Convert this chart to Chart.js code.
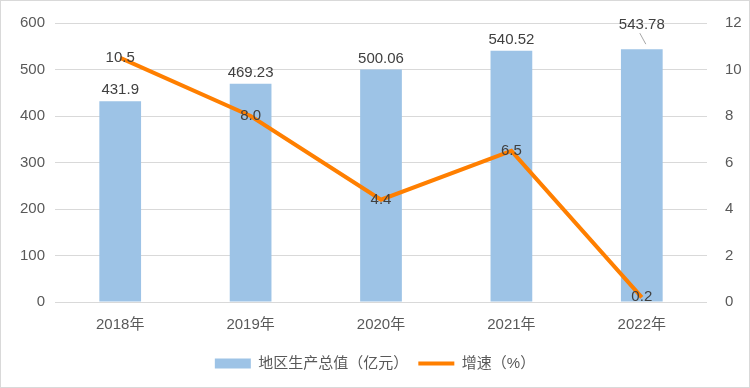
<!DOCTYPE html>
<html>
<head>
<meta charset="utf-8">
<script src="https://cdn.jsdelivr.net/npm/chart.js@4"></script>
<style>
  html, body { margin: 0; padding: 0; background: #fff; }
  .box { width: 748px; height: 386px; border: 1px solid #d9d9d9; position: relative; }
</style>
</head>
<body>
<div class="box"><canvas id="c" width="748" height="386"></canvas></div>
<script>
const years = ['2018年', '2019年', '2020年', '2021年', '2022年'];
const gdp = [431.9, 469.23, 500.06, 540.52, 543.78];
const growth = [10.5, 8.0, 4.4, 6.5, 0.2];
const gdpLabels = ['431.9', '469.23', '500.06', '540.52', '543.78'];
const growthLabels = ['10.5', '8.0', '4.4', '6.5', '0.2'];

const FONT = "'Liberation Sans', 'Noto Sans CJK SC', sans-serif";
const TEXT = '#595959';

// value labels: bars above the top, line centred on the point
const valueLabels = {
  id: 'valueLabels',
  afterDatasetsDraw(chart) {
    const ctx = chart.ctx;
    ctx.save();
    ctx.font = '15px ' + FONT;
    ctx.fillStyle = '#404040';
    ctx.textAlign = 'center';
    ctx.textBaseline = 'middle';
    chart.getDatasetMeta(0).data.forEach((bar, i) => {
      let y = bar.y - 11;
      if (i === 4) {
        // lifted label with a leader line
        y = bar.y - 24;
        ctx.strokeStyle = '#a6a6a6';
        ctx.lineWidth = 1;
        ctx.beginPath();
        ctx.moveTo(bar.x - 2, y + 8);
        ctx.lineTo(bar.x + 4, bar.y - 5);
        ctx.stroke();
      }
      ctx.fillText(gdpLabels[i], bar.x, y);
    });
    chart.getDatasetMeta(1).data.forEach((pt, i) => {
      ctx.fillText(growthLabels[i], pt.x, pt.y);
    });
    ctx.restore();
  }
};

new Chart(document.getElementById('c'), {
  data: {
    labels: years,
    datasets: [{
      type: 'bar',
      label: '地区生产总值（亿元）',
      data: gdp,
      backgroundColor: '#9DC3E6',
      borderWidth: 0,
      yAxisID: 'y',
      categoryPercentage: 1,
      barPercentage: 0.32,
      pointStyle: 'rect',
      order: 2
    }, {
      type: 'line',
      label: '增速（%）',
      data: growth,
      borderColor: '#FF7F00',
      backgroundColor: '#FF7F00',
      borderWidth: 4,
      pointRadius: 0,
      pointStyle: 'line',
      tension: 0,
      yAxisID: 'y1',
      order: 1
    }]
  },
  options: {
    responsive: false,
    animation: false,
    layout: { padding: { top: 22, bottom: 6, left: 0, right: 0 } },
    plugins: {
      legend: {
        position: 'bottom',
        labels: {
          usePointStyle: true,
          pointStyleWidth: 36,
          boxHeight: 10,
          padding: 10,
          color: TEXT,
          font: { size: 15, family: FONT },
          sort: (a, b) => a.datasetIndex - b.datasetIndex
        }
      },
      tooltip: { enabled: false }
    },
    scales: {
      x: {
        grid: { display: false },
        border: { display: false },
        ticks: { color: TEXT, font: { size: 15, family: FONT }, padding: 6 },
        afterFit: s => { s.height = 44; }
      },
      y: {
        position: 'left',
        min: 0, max: 600,
        ticks: { stepSize: 100, color: TEXT, font: { size: 15, family: FONT }, padding: 10 },
        grid: { color: '#d9d9d9', drawTicks: false },
        border: { display: false },
        afterFit: s => { s.width = 54; }
      },
      y1: {
        position: 'right',
        min: 0, max: 12,
        ticks: { stepSize: 2, color: TEXT, font: { size: 15, family: FONT }, padding: 10 },
        grid: { display: false },
        border: { display: false },
        afterFit: s => { s.width = 42; }
      }
    }
  },
  plugins: [valueLabels]
});
</script>
</body>
</html>
